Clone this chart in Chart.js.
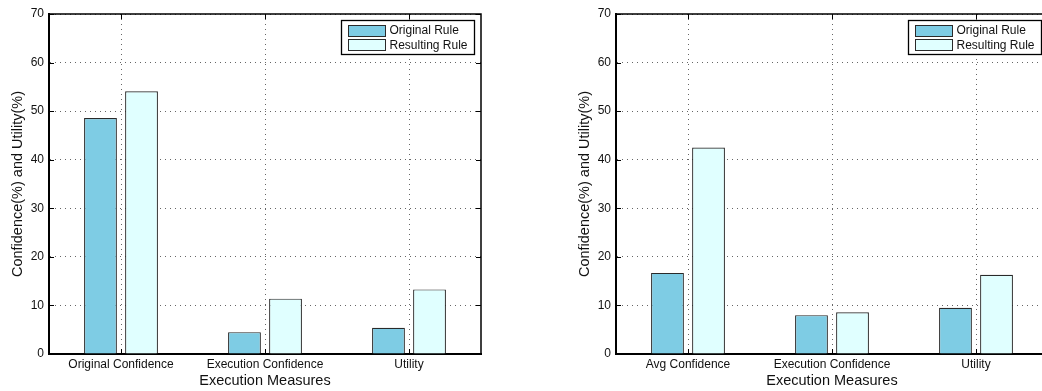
<!DOCTYPE html>
<html>
<head>
<meta charset="utf-8">
<script src="https://cdn.jsdelivr.net/npm/chart.js@4"></script>
<style>
    html, body { margin: 0; padding: 0; background: #fff; }
    body { width: 1042px; height: 391px; overflow: hidden; position: relative; }
    .panel { position: absolute; top: 0; height: 391px; }
    #left-panel { left: 0; width: 520px; }
    #right-panel { left: 520px; width: 580px; }
</style>
</head>
<body>
<div class="panel" id="left-panel"><canvas id="chart-left"></canvas></div>
<div class="panel" id="right-panel"><canvas id="chart-right"></canvas></div>
<script>
// Data
const leftCategories = ['Original Confidence', 'Execution Confidence', 'Utility'];
const leftOriginal = [48.6, 4.5, 5.4];
const leftResulting = [54.1, 11.4, 13.3];

const rightCategories = ['Avg Confidence', 'Execution Confidence', 'Utility'];
const rightOriginal = [16.7, 8.0, 9.5];
const rightResulting = [42.5, 8.6, 16.3];

const seriesNames = ['Original Rule', 'Resulting Rule'];
const yTicks = [0, 10, 20, 30, 40, 50, 60, 70];

const xTitle = 'Execution Measures';
const yTitle = 'Confidence(%) and Utility(%)';

// Style
const FONT = '"Liberation Sans", Arial, Helvetica, sans-serif';
const BLUE = '#7ecce4';
const CYAN = '#e0ffff';
const EDGE = '#2a2a2a';

Chart.defaults.font.family = FONT;
Chart.defaults.color = '#111';

// Box frame + inward tick marks (MATLAB look)
const framePlugin = {
    id: 'frame',
    afterDraw(chart) {
        const { ctx, chartArea: a, scales } = chart;
        ctx.save();
        ctx.strokeStyle = '#000';
        ctx.lineWidth = 1.5;
        ctx.beginPath();
        ctx.moveTo(a.left, a.top);
        ctx.lineTo(a.right, a.top);
        ctx.lineTo(a.right, a.bottom);
        ctx.stroke();

        ctx.lineWidth = 1;
        ctx.beginPath();
        yTicks.forEach(v => {
            const y = Math.round(scales.y.getPixelForValue(v)) + 0.5;
            ctx.moveTo(a.left, y); ctx.lineTo(a.left + 5, y);
            ctx.moveTo(a.right, y); ctx.lineTo(a.right - 5, y);
        });
        scales.x.ticks.forEach((t, i) => {
            const x = Math.round(scales.x.getPixelForTick(i)) + 0.5;
            ctx.moveTo(x, a.bottom); ctx.lineTo(x, a.bottom - 5);
            ctx.moveTo(x, a.top); ctx.lineTo(x, a.top + 5);
        });
        ctx.stroke();
        ctx.restore();
    }
};

// Legend box inside the plot, top right
const boxLegendPlugin = {
    id: 'boxLegend',
    afterDraw(chart) {
        const { ctx, chartArea: a } = chart;
        const w = 133, h = 34;
        const bx = Math.round(a.right - 7 - w) + 0.5;
        const by = Math.round(a.top + 6) + 0.5;
        ctx.save();
        ctx.fillStyle = '#fff';
        ctx.fillRect(bx, by, w, h);
        ctx.strokeStyle = '#000';
        ctx.lineWidth = 1.3;
        ctx.strokeRect(bx, by, w, h);

        chart.data.datasets.forEach((ds, i) => {
            const cy = by + 9.5 + i * 14.7;
            ctx.fillStyle = ds.backgroundColor;
            ctx.fillRect(bx + 7, Math.round(cy - 5.5), 37, 11);
            ctx.strokeStyle = EDGE;
            ctx.lineWidth = 1;
            ctx.strokeRect(bx + 7, Math.round(cy - 5.5) + 0.5, 37, 11);
            ctx.fillStyle = '#111';
            ctx.font = '12px ' + FONT;
            ctx.textBaseline = 'middle';
            ctx.textAlign = 'left';
            ctx.fillText(ds.label, bx + 48, cy + 0.5);
        });
        ctx.restore();
    }
};

function makeChart(canvasId, categories, original, resulting, padLeft, yWidth, padRight) {
    const ctx = document.getElementById(canvasId).getContext('2d');
    return new Chart(ctx, {
        type: 'bar',
        data: {
            labels: categories,
            datasets: [{
                label: seriesNames[0],
                data: original,
                backgroundColor: BLUE,
                borderColor: EDGE,
                borderWidth: 1.2,
                categoryPercentage: 0.57,
                barPercentage: 0.8
            }, {
                label: seriesNames[1],
                data: resulting,
                backgroundColor: CYAN,
                borderColor: EDGE,
                borderWidth: 1.2,
                categoryPercentage: 0.57,
                barPercentage: 0.8
            }]
        },
        options: {
            responsive: true,
            maintainAspectRatio: false,
            animation: false,
            layout: { padding: { left: padLeft, right: padRight, top: 14, bottom: 0 } },
            plugins: {
                legend: { display: false },
                tooltip: { enabled: false }
            },
            scales: {
                x: {
                    afterFit: (scale) => { scale.height = 37; },
                    grid: {
                        offset: false,
                        drawTicks: false,
                        color: '#666',
                        lineWidth: 1
                    },
                    // border.dash also sets the dash of the grid lines
                    border: { display: true, color: '#000', width: 2, dash: [1, 4] },
                    ticks: { padding: 3, font: { size: 12 }, color: '#111', maxRotation: 0 },
                    title: {
                        display: true,
                        text: xTitle,
                        font: { size: 14.5 },
                        color: '#111',
                        padding: { top: 0, bottom: 1 }
                    }
                },
                y: {
                    min: 0,
                    max: 70,
                    afterFit: (scale) => { scale.width = yWidth; },
                    afterBuildTicks: (scale) => { scale.ticks = yTicks.map(v => ({ value: v })); },
                    grid: {
                        drawTicks: false,
                        color: '#666',
                        lineWidth: 1
                    },
                    border: { display: true, color: '#000', width: 2, dash: [1, 4] },
                    ticks: { padding: 5, font: { size: 12 }, color: '#111' },
                    title: {
                        display: true,
                        text: yTitle,
                        font: { size: 14.5 },
                        color: '#111',
                        padding: { top: 0, bottom: 0 }
                    }
                }
            }
        },
        plugins: [framePlugin, boxLegendPlugin]
    });
}

makeChart('chart-left', leftCategories, leftOriginal, leftResulting, 9, 40, 39);
makeChart('chart-right', rightCategories, rightOriginal, rightResulting, 56, 40, 52);
</script>
</body>
</html>
